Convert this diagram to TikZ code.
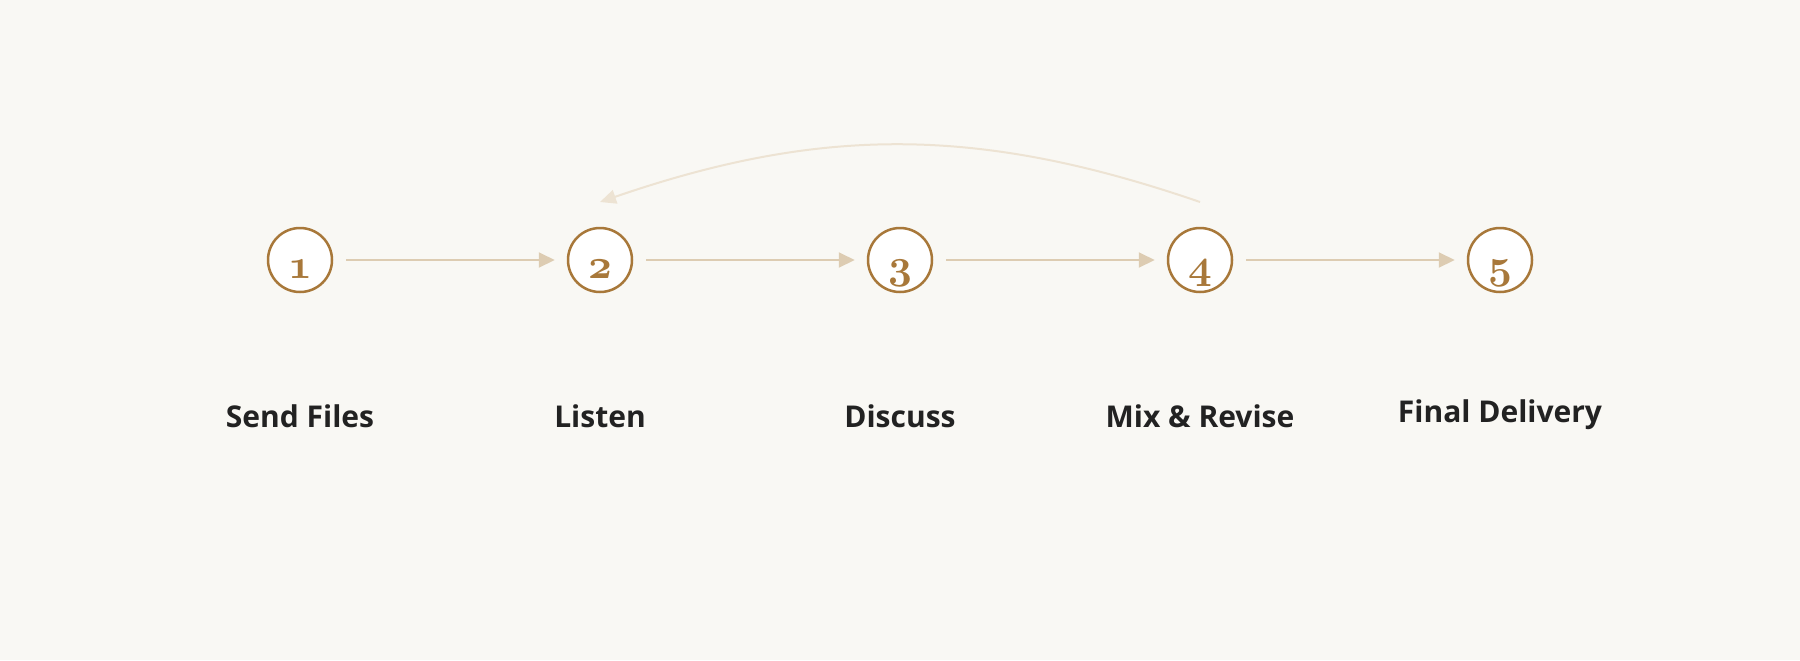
\documentclass[tikz,border=0pt]{standalone}
\usepackage{fontspec}
\setsansfont{Open Sans}
\usetikzlibrary{arrows.meta}

\newlength{\du}
\setlength{\du}{0.5pt}

\definecolor{pagecolor}{RGB}{249,248,244}
\definecolor{stepbrown}{RGB}{168,120,58}
\definecolor{flowcolor}{RGB}{221,204,178}
\definecolor{loopcolor}{RGB}{237,227,211}
\definecolor{labelcolor}{RGB}{34,34,34}

% bold old-style digits
\newcommand{\stepdigit}[1]{{\fontencoding{OML}\fontfamily{cmm}\fontseries{b}\fontshape{it}\fontsize{20}{20}\selectfont #1}}

\tikzset{
  stepcircle/.style={circle, draw=stepbrown, fill=white, line width=1.25pt, minimum size=32pt, inner sep=0pt},
  stepnum/.style={anchor=base, text=stepbrown, inner sep=0pt},
  steplabel/.style={anchor=base, text=labelcolor, font=\sffamily\bfseries\fontsize{15}{18}\selectfont},
  flow/.style={draw=flowcolor, line width=1pt, -{Triangle[length=8pt,width=7.5pt]}, shorten <=6.5pt, shorten >=6pt},
  loopback/.style={draw=loopcolor, line width=1pt, -{Triangle[length=8pt,width=7pt]}}
}

\begin{document}
\begin{tikzpicture}[x=\du, y=-\du]
\fill[pagecolor] (0,0) rectangle (1800,660);
\useasboundingbox (0,0) rectangle (1800,660);

% steps
\node[stepcircle] (s1) at (300,260) {};
\node[stepcircle] (s2) at (600,260) {};
\node[stepcircle] (s3) at (900,260) {};
\node[stepcircle] (s4) at (1200,260) {};
\node[stepcircle] (s5) at (1500,260) {};
\node[stepnum] (n1) at (300,278) {\stepdigit{1}};
\node[stepnum] (n2) at (600,278) {\stepdigit{2}};
\node[stepnum] (n3) at (900,278) {\stepdigit{3}};
\node[stepnum] (n4) at (1200,278) {\stepdigit{4}};
\node[stepnum] (n5) at (1500,278) {\stepdigit{5}};

% flow
\draw[flow] (s1) -- (s2);
\draw[flow] (s2) -- (s3);
\draw[flow] (s3) -- (s4);
\draw[flow] (s4) -- (s5);

% revise loop
\coordinate (r4) at (1200,202);
\coordinate (r2) at (600,202);
\draw[loopback] (r4) to[bend right=19] (r2);

% labels
\node[steplabel] (l1) at (300,427) {Send Files};
\node[steplabel] (l2) at (600,427) {Listen};
\node[steplabel] (l3) at (900,427) {Discuss};
\node[steplabel] (l4) at (1200,427) {Mix \& Revise};
\node[steplabel] (l5) at (1500,422) {Final Delivery};
\end{tikzpicture}
\end{document}
